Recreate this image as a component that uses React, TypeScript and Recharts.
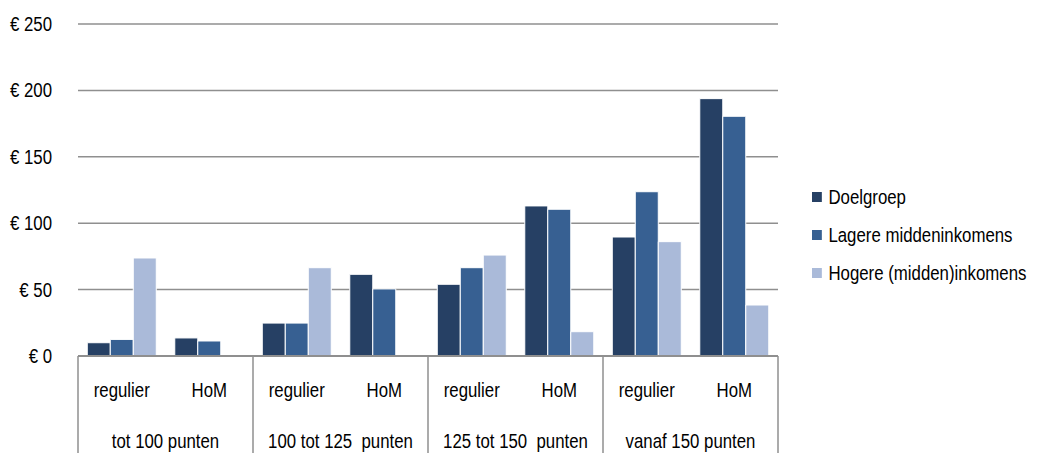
import React from "react"
import { BarChart, Bar, XAxis, YAxis, CartesianGrid, Legend } from "recharts"

// categories (two-level axis)
const subLabels = ["regulier", "HoM", "regulier", "HoM", "regulier", "HoM", "regulier", "HoM"]
const groupLabels = ["tot 100 punten", "100 tot 125  punten", "125 tot 150  punten", "vanaf 150 punten"]

// series values (euro)
const doelgroep = [10, 13.6, 24.8, 61.5, 54, 113, 89.6, 193.8]
const lagereMidden = [12.5, 11.3, 24.8, 50.5, 66.5, 110.5, 123.7, 180.5]
const hogereMidden = [73.8, null, 66.5, null, 76, 18.3, 86.1, 38.4]

const yTicks = [0, 50, 100, 150, 200, 250]

const series = [
  { key: "doelgroep", name: "Doelgroep", color: "#264064" },
  { key: "lager", name: "Lagere middeninkomens", color: "#376092" },
  { key: "hoger", name: "Hogere (midden)inkomens", color: "#aabad9" },
]

const data = subLabels.map((label, i) => ({
  id: i,
  label,
  doelgroep: doelgroep[i],
  lager: lagereMidden[i],
  hoger: hogereMidden[i],
}))

const W = 1037
const H = 453
const PLOT_LEFT = 78
const PLOT_RIGHT = 778
const PLOT_TOP = 24
const PLOT_BOTTOM = 356
const BAND = (PLOT_RIGHT - PLOT_LEFT) / subLabels.length
const FONT = "'Liberation Sans', Arial, sans-serif"
const NARROW = 0.82
const FS = 20.5
const GRID = "#8f8f8f"

// condensed text: the reference uses a narrow face, so squeeze Liberation Sans
function NarrowText({ x, y, anchor, children }: any) {
  return (
    <text
      transform={`translate(${x},${y}) scale(${NARROW},1)`}
      textAnchor={anchor}
      fontSize={FS}
      fontFamily={FONT}
      fill="#000"
      style={{ whiteSpace: "pre" }}
    >
      {children}
    </text>
  )
}

function CategoryTick(props: any) {
  const { x, index } = props
  const i = index as number
  const left = x - BAND / 2
  return (
    <g>
      <NarrowText x={x} y={397} anchor="middle">{subLabels[i]}</NarrowText>
      {i % 2 === 0 && <line x1={left} x2={left} y1={PLOT_BOTTOM} y2={H} stroke={GRID} strokeWidth={1.5} />}
      {i === subLabels.length - 1 && (
        <line x1={x + BAND / 2} x2={x + BAND / 2} y1={PLOT_BOTTOM} y2={H} stroke={GRID} strokeWidth={1.5} />
      )}
      {i % 2 === 1 && <NarrowText x={left} y={448} anchor="middle">{groupLabels[(i - 1) / 2]}</NarrowText>}
    </g>
  )
}

function ValueTick(props: any) {
  const { y, payload } = props
  return <NarrowText x={52} y={y + 7} anchor="end">{`€ ${payload.value}`}</NarrowText>
}

function LegendBox() {
  return (
    <div style={{ fontFamily: FONT, fontSize: FS, color: "#000", transform: `scaleX(${NARROW})`, transformOrigin: "left top", whiteSpace: "nowrap", width: 300 }}>
      {series.map((s) => (
        <div key={s.key} style={{ display: "flex", alignItems: "center", height: 38 }}>
          <span style={{ width: 12, height: 10, flexShrink: 0, background: s.color, marginRight: 8, display: "inline-block" }} />
          <span>{s.name}</span>
        </div>
      ))}
    </div>
  )
}

export default function App() {
  return (
    <div style={{ position: "absolute", left: 0, top: 0, width: W, height: H, background: "#fff" }}>
      <BarChart
        width={W}
        height={H}
        data={data}
        margin={{ top: PLOT_TOP, right: W - PLOT_RIGHT, left: 8, bottom: 0 }}
        barCategoryGap="10.6%"
        barGap={0}
      >
        <CartesianGrid vertical={false} stroke={GRID} strokeWidth={1.5} />
        <XAxis
          dataKey="id"
          interval={0}
          height={H - PLOT_BOTTOM}
          tickLine={false}
          axisLine={{ stroke: GRID, strokeWidth: 2 }}
          tick={<CategoryTick />}
        />
        <YAxis
          width={PLOT_LEFT - 8}
          domain={[0, 250]}
          ticks={yTicks}
          axisLine={false}
          tickLine={false}
          tick={<ValueTick />}
        />
        <Legend
          layout="horizontal"
          verticalAlign="middle"
          align="center"
          content={<LegendBox />}
          wrapperStyle={{ left: 812, top: 178, width: 225 }}
        />
        {series.map((s) => (
          <Bar key={s.key} dataKey={s.key} name={s.name} fill={s.color} stroke="#fff" strokeWidth={1} isAnimationActive={false} />
        ))}
      </BarChart>
    </div>
  )
}
